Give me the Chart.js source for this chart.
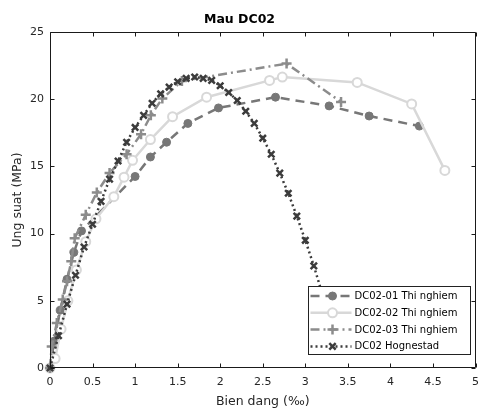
<!DOCTYPE html>
<html>
<head>
<meta charset="utf-8">
<script src="https://cdn.jsdelivr.net/npm/chart.js@4.4.1/dist/chart.umd.min.js"></script>
<style>
  html, body { margin: 0; padding: 0; background: #fff; }
  canvas { display: block; }
</style>
</head>
<body>
<canvas id="chartMau" width="483" height="408"></canvas>
<script>
// Du lieu doc tu hinh: bien dang (‰) va ung suat (MPa)
const dc01Strain = [0, 0.05, 0.12, 0.20, 0.28, 0.37, 1.00, 1.18, 1.37, 1.62, 1.98, 2.65, 3.28, 3.75, 4.34];
const dc01Stress = [0, 2.0, 4.3, 6.6, 8.6, 10.2, 14.25, 15.7, 16.8, 18.2, 19.35, 20.15, 19.5, 18.75, 18.0];

const dc02Strain = [0, 0.06, 0.13, 0.21, 0.31, 0.42, 0.54, 0.75, 0.87, 0.97, 1.18, 1.44, 1.84, 2.58, 2.73, 3.61, 4.25, 4.64];
const dc02Stress = [0, 0.7, 2.9, 5.0, 7.3, 9.4, 11.1, 12.75, 14.2, 15.45, 17.0, 18.7, 20.15, 21.4, 21.65, 21.25, 19.65, 14.7];

const dc03Strain = [0, 0.02, 0.08, 0.15, 0.20, 0.25, 0.29, 0.42, 0.55, 0.70, 0.90, 1.07, 1.185, 1.32, 1.55, 2.78, 3.42];
const dc03Stress = [0, 1.6, 3.35, 5.1, 6.45, 7.95, 9.65, 11.4, 13.05, 14.5, 15.9, 17.4, 18.8, 20.05, 21.35, 22.65, 19.8];

const hogStrain = [0, 0.1, 0.2, 0.3, 0.4, 0.5, 0.6, 0.7, 0.8, 0.9, 1.0, 1.1, 1.2, 1.3, 1.4, 1.5, 1.6,
                   1.7, 1.8, 1.9, 2.0, 2.1, 2.2, 2.3, 2.4, 2.5, 2.6, 2.7, 2.8, 2.9, 3.0, 3.1, 3.2, 3.3];
const hogStress = [0, 2.4, 4.75, 6.9, 9.0, 10.7, 12.4, 14.05, 15.4, 16.8, 17.9, 18.8, 19.7, 20.4, 20.9, 21.3, 21.55,
                   21.65, 21.55, 21.4, 21.0, 20.5, 19.9, 19.1, 18.2, 17.1, 15.9, 14.5, 13.0, 11.3, 9.5, 7.6, 5.5, 3.3];

const seriesLabels = ['DC02-01 Thi nghiem', 'DC02-02 Thi nghiem', 'DC02-03 Thi nghiem', 'DC02 Hognestad'];

const FONT = "'DejaVu Sans', sans-serif";

// ghep x/y thanh diem cho Chart.js
function toPoints(xs, ys) {
    return xs.map((x, i) => ({ x: x, y: ys[i] }));
}

// ve marker kieu MATLAB (dung cho chu giai)
function drawMarker(ctx, ds, x, y) {
    const r = ds.pointRadius;
    ctx.save();
    ctx.setLineDash([]);
    ctx.strokeStyle = ds.pointBorderColor;
    ctx.fillStyle = ds.pointBackgroundColor;
    ctx.lineWidth = ds.pointBorderWidth;
    ctx.beginPath();
    if (ds.pointStyle === 'circle') {
        ctx.arc(x, y, r, 0, Math.PI * 2);
        ctx.fill();
    } else if (ds.pointStyle === 'cross') {
        ctx.moveTo(x - r, y); ctx.lineTo(x + r, y);
        ctx.moveTo(x, y - r); ctx.lineTo(x, y + r);
    } else {
        const d = r * Math.SQRT1_2;
        ctx.moveTo(x - d, y - d); ctx.lineTo(x + d, y + d);
        ctx.moveTo(x - d, y + d); ctx.lineTo(x + d, y - d);
    }
    ctx.stroke();
    ctx.restore();
}

// Chu giai co nen trang nam trong vung ve (goc duoi phai)
const boxLegend = {
    id: 'boxLegend',
    afterDatasetsDraw(chart) {
        const ctx = chart.ctx;
        const area = chart.chartArea;
        const w = 162, h = 68;
        const left = area.right - 6 - w;
        const top = area.bottom - 14 - h;
        ctx.save();
        ctx.fillStyle = '#fff';
        ctx.fillRect(left, top, w, h);
        ctx.strokeStyle = '#222';
        ctx.lineWidth = 1;
        ctx.strokeRect(Math.round(left) + 0.5, Math.round(top) + 0.5, w, h);
        ctx.font = '10px ' + FONT;
        ctx.textBaseline = 'middle';
        ctx.fillStyle = '#000';
        chart.data.datasets.forEach((ds, i) => {
            const y = top + 10 + i * 16.8;
            ctx.save();
            ctx.strokeStyle = ds.borderColor;
            ctx.lineWidth = ds.borderWidth;
            ctx.setLineDash(ds.borderDash || []);
            ctx.beginPath();
            ctx.moveTo(left + 3, y);
            ctx.lineTo(left + 44, y);
            ctx.stroke();
            ctx.restore();
            drawMarker(ctx, ds, left + 25, y);
            ctx.fillText(ds.label, left + 47, y + 0.5);
        });
        ctx.restore();
    }
};

// Khung hop va vach chia huong vao trong (kieu MATLAB)
const matlabFrame = {
    id: 'matlabFrame',
    afterDraw(chart) {
        const ctx = chart.ctx;
        const { left, right, top, bottom } = chart.chartArea;
        const xs = chart.scales.x, ys = chart.scales.y;
        const L = Math.round(left) + 0.5, R = Math.round(right) - 0.5;
        const T = Math.round(top) + 0.5, B = Math.round(bottom) - 0.5;
        const len = 4;
        ctx.save();
        ctx.strokeStyle = '#1a1a1a';
        ctx.lineWidth = 1;
        ctx.beginPath();
        ctx.rect(L, T, R - L, B - T);
        xs.ticks.forEach(t => {
            const px = Math.round(xs.getPixelForValue(t.value)) + 0.5;
            ctx.moveTo(px, B); ctx.lineTo(px, B - len);
            ctx.moveTo(px, T); ctx.lineTo(px, T + len);
        });
        ys.ticks.forEach(t => {
            const py = Math.round(ys.getPixelForValue(t.value)) + 0.5;
            ctx.moveTo(L, py); ctx.lineTo(L + len, py);
            ctx.moveTo(R, py); ctx.lineTo(R - len, py);
        });
        ctx.stroke();
        ctx.restore();
    }
};

const ctx = document.getElementById('chartMau').getContext('2d');

new Chart(ctx, {
    type: 'line',
    data: {
        datasets: [
            {
                label: seriesLabels[0],
                data: toPoints(dc01Strain, dc01Stress),
                borderColor: '#777777',
                borderWidth: 2.5,
                borderDash: [9, 6],
                pointStyle: 'circle',
                pointRadius: 4,
                pointBackgroundColor: '#777777',
                pointBorderColor: '#777777',
                pointBorderWidth: 1,
                order: 4
            },
            {
                label: seriesLabels[1],
                data: toPoints(dc02Strain, dc02Stress),
                borderColor: '#d8d8d8',
                borderWidth: 2.5,
                borderDash: [],
                pointStyle: 'circle',
                pointRadius: 4.5,
                pointBackgroundColor: '#ffffff',
                pointBorderColor: '#d8d8d8',
                pointBorderWidth: 2,
                order: 3
            },
            {
                label: seriesLabels[2],
                data: toPoints(dc03Strain, dc03Stress),
                borderColor: '#8c8c8c',
                borderWidth: 2.5,
                borderDash: [9, 4, 2, 4],
                pointStyle: 'cross',
                pointRadius: 5,
                pointBackgroundColor: '#8c8c8c',
                pointBorderColor: '#8c8c8c',
                pointBorderWidth: 2.5,
                order: 2
            },
            {
                label: seriesLabels[3],
                data: toPoints(hogStrain, hogStress),
                borderColor: '#3c3c3c',
                borderWidth: 2.5,
                borderDash: [2, 3],
                pointStyle: 'crossRot',
                pointRadius: 4.5,
                pointBackgroundColor: '#3c3c3c',
                pointBorderColor: '#3c3c3c',
                pointBorderWidth: 2.5,
                order: 1
            }
        ]
    },
    options: {
        responsive: false,
        animation: false,
        layout: { padding: { right: 4 } },
        elements: { line: { tension: 0, fill: false } },
        datasets: { line: { clip: false } },
        scales: {
            x: {
                type: 'linear',
                min: 0,
                max: 5,
                ticks: {
                    stepSize: 0.5,
                    autoSkip: false,
                    maxRotation: 0,
                    padding: 8,
                    color: '#262626',
                    font: { family: FONT, size: 11 },
                    callback: v => String(v)
                },
                grid: { display: false, drawTicks: false },
                border: { display: false },
                title: {
                    display: true,
                    text: 'Bien dang (‰)',
                    color: '#262626',
                    font: { family: FONT, size: 12.5 },
                    padding: { top: 0, bottom: -1 }
                },
                afterFit: scale => {
                    scale.height = 40;
                    scale.paddingLeft = 0;
                    scale.paddingRight = 0;
                }
            },
            y: {
                type: 'linear',
                min: 0,
                max: 25,
                ticks: {
                    stepSize: 5,
                    padding: 6,
                    color: '#262626',
                    font: { family: FONT, size: 11 },
                    callback: v => String(v)
                },
                grid: { display: false, drawTicks: false },
                border: { display: false },
                title: {
                    display: true,
                    text: 'Ung suat (MPa)',
                    color: '#262626',
                    font: { family: FONT, size: 12.5 },
                    padding: { top: 10, bottom: 0 }
                },
                afterFit: scale => {
                    scale.width = 50;
                    scale.paddingTop = 0;
                    scale.paddingBottom = 0;
                }
            }
        },
        plugins: {
            title: {
                display: true,
                text: 'Mau DC02',
                color: '#000',
                font: { family: FONT, size: 12.5, weight: 'bold' },
                padding: { top: 12, bottom: 5 }
            },
            legend: { display: false },
            tooltip: { enabled: false }
        }
    },
    plugins: [boxLegend, matlabFrame]
});
</script>
</body>
</html>
